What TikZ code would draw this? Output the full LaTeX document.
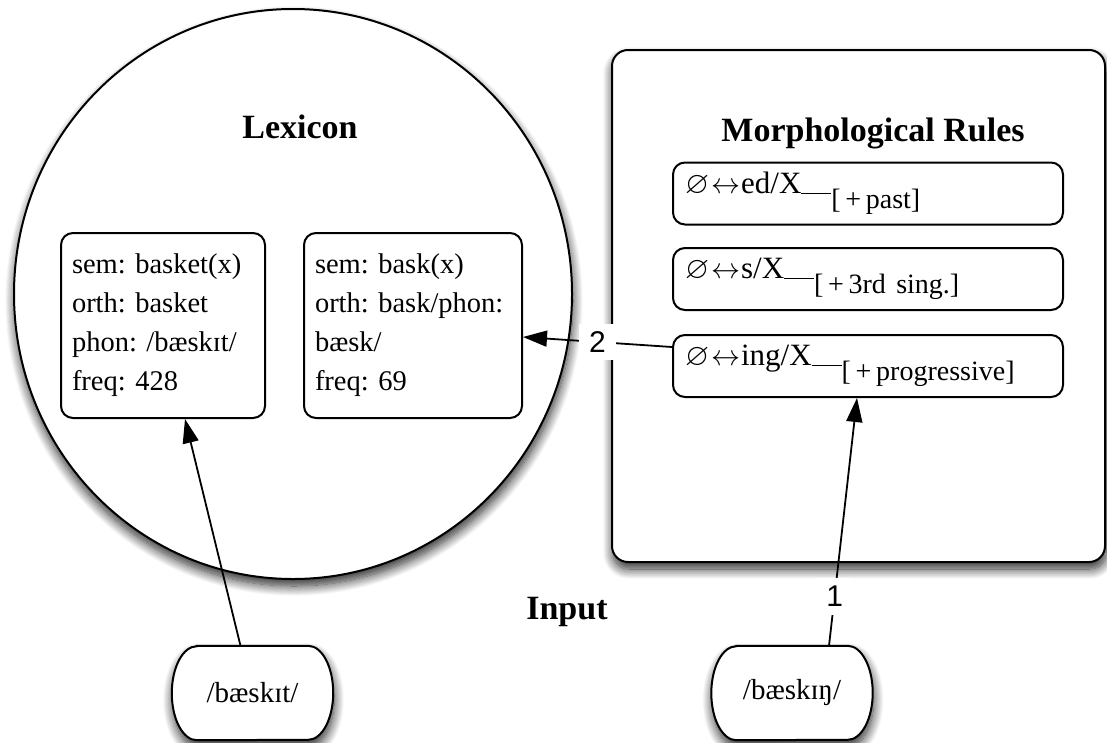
\RequirePackage{fix-cm}
\documentclass[tikz,border=0pt]{standalone}
\usepackage{fontspec}
\usepackage{amssymb}
\setmainfont{Liberation Serif}
\newfontfamily\lblfont{Liberation Sans}
\frenchspacing
\usetikzlibrary{shapes.geometric,shadows.blur,arrows.meta}
\newcommand\rulesub[1]{\rule[-0.5pt]{30pt}{1.3pt}\raisebox{-15pt}{\fontsize{28}{30}\selectfont[\,+\,#1]}}
\newcommand\ruleop{$\varnothing$\hspace{2pt}{\fontsize{29}{29}\selectfont$\leftrightarrow$}\hspace{1pt}}
\begin{document}
\begin{tikzpicture}[x=1pt,y=-1pt,
  every node/.style={font=\fontsize{28.5}{39}\selectfont},
  heavy/.style={draw, line width=2pt},
  softshadow/.style={blur shadow={shadow xshift=1pt, shadow yshift=-7pt, shadow blur radius=10pt, shadow blur steps=14, shadow opacity=85}},
  lexbox/.style={heavy, rounded corners=12pt, fill=white, minimum height=185pt, align=left, inner xsep=11pt},
  rulebox/.style={heavy, rounded corners=12pt, fill=white, minimum width=390pt, minimum height=62pt, text width=366pt, align=left, inner xsep=12pt, font=\fontsize{31}{36}\selectfont},
  inframe/.style={minimum width=161pt, minimum height=94pt, inner sep=0pt},
  inoutline/.style={heavy, fill=white, softshadow},
  intext/.style={font=\fontsize{29}{34}\selectfont},
  title/.style={font=\fontsize{34}{40}\selectfont\bfseries},
  arr/.style={draw=black, line width=1.8pt, -{Triangle[length=24pt,width=16pt,fill=black]}, opacity=1},
  numlbl/.style={fill=white, font=\lblfont\fontsize{30}{30}\selectfont, inner xsep=10pt, inner ysep=8pt}
]
\useasboundingbox (0,0) rectangle (1107,742);

% Lexicon
\node[ellipse, heavy, fill=white, softshadow, minimum width=558pt, minimum height=570pt, inner sep=0pt] (lex) at (293,294) {};
\node[title] (lextitle) at (300,127) {Lexicon};
\node[lexbox, minimum width=204pt, text width=182pt] (boxA) at (163,325.5)
  {sem: basket(x)\\orth: basket\\phon: /bæskɪt/\\freq: 428};
\node[lexbox, minimum width=218pt, text width=196pt] (boxB) at (413,325.5)
  {sem: bask(x)\\orth: bask/phon:\\bæsk/\\freq: 69};

% Rules
\node[heavy, rounded corners=16pt, fill=white, softshadow, minimum width=493pt, minimum height=512pt] (rules) at (858.5,306) {};
\node[title] (rtitle) at (873,133) {Morphological Rules};
\node[rulebox] (r1) at (868,193.5) {\ruleop ed/X\rulesub{past}};
\node[rulebox] (r2) at (868,279) {\ruleop s/X\rulesub{3rd sing.}};
\node[rulebox] (r3) at (868,366) {\ruleop ing/X\rulesub{progressive}};

% Input
\node[title] (input) at (567,612) {Input};
\path node[inframe] (inA) at (252.5,693) {} node[inframe] (inB) at (792,693) {};
\begin{scope}
\draw[inoutline] ([xshift=25pt]inA.north west) -- ([xshift=-25pt]inA.north east)
    arc[start angle=90, end angle=-90, x radius=25pt, y radius=47pt]
    -- ([xshift=25pt]inA.south west)
    arc[start angle=270, end angle=90, x radius=25pt, y radius=47pt] -- cycle;
\end{scope}
\begin{scope}
\draw[inoutline] ([xshift=25pt]inB.north west) -- ([xshift=-25pt]inB.north east)
    arc[start angle=90, end angle=-90, x radius=25pt, y radius=47pt]
    -- ([xshift=25pt]inB.south west)
    arc[start angle=270, end angle=90, x radius=25pt, y radius=47pt] -- cycle;
\end{scope}
\node[intext] (inAtext) at (inA) {/bæskɪt/};
\node[intext] (inBtext) at (inB) {/bæskɪŋ/};

% Connectors
\draw[arr] ([xshift=-12pt]inA.north) -- ([xshift=22pt]boxA.south);
\draw[arr] ([xshift=37pt]inB.north) -- node[numlbl, pos=0.2] {1} ([xshift=-11pt]r3.south);
\draw[arr] ([yshift=19pt]r3.west) -- node[numlbl, pos=0.5] {2} ([yshift=-11.5pt]boxB.east);
\end{tikzpicture}
\end{document}
